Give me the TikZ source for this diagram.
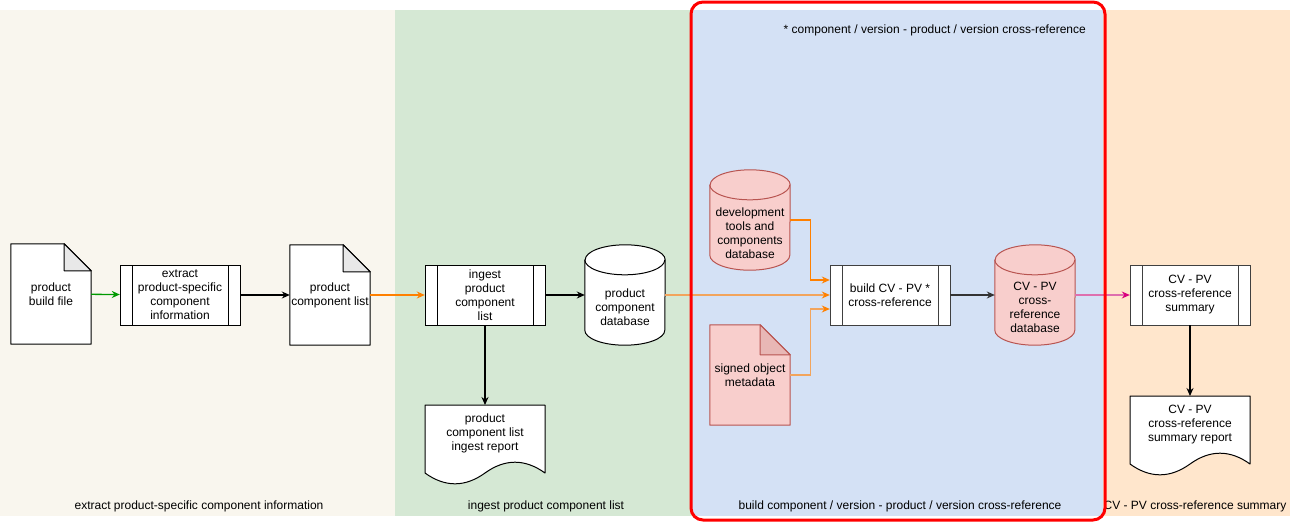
\documentclass[tikz,border=0pt]{standalone}
\usepackage{fontspec}
\setmainfont{Liberation Sans}
\usetikzlibrary{arrows.meta,calc}
\pgfdeclarelayer{lanes}
\pgfdeclarelayer{shapes}
\pgfsetlayers{lanes,shapes,main}
\definecolor{laneA}{HTML}{F9F6EE}
\definecolor{laneB}{HTML}{D5E8D4}
\definecolor{laneC}{HTML}{D4E1F5}
\definecolor{laneD}{HTML}{FFE6CC}
\definecolor{dbred}{HTML}{F8CECC}
\definecolor{dbredline}{HTML}{B85450}
\definecolor{foldgray}{HTML}{E8E8E8}
\definecolor{foldred}{HTML}{E8B7B5}
\definecolor{flowgreen}{HTML}{009900}
\definecolor{floworange}{HTML}{FF8000}
\definecolor{paleorange}{HTML}{F2A45C}
\definecolor{palepink}{HTML}{DE6FAE}
\definecolor{flowpink}{HTML}{D9007E}
\tikzset{
  outline/.style={line width=1pt,line join=round},
  flow/.style={line width=1.3pt},
  proc/.style={draw,fill=white,minimum width=120pt,minimum height=60pt,align=center,inner sep=0pt,
    path picture={\draw ([xshift=12pt]path picture bounding box.north west)--([xshift=12pt]path picture bounding box.south west)
      ([xshift=-12pt]path picture bounding box.north east)--([xshift=-12pt]path picture bounding box.south east);}},
  docbox/.style={minimum width=80pt,minimum height=100pt,align=center,inner sep=0pt},
  dbbox/.style={minimum width=80pt,minimum height=100pt,inner sep=0pt},
  dbtext/.style={align=center,inner sep=0pt},
  reportbox/.style={minimum width=120pt,minimum height=56pt,align=center,inner sep=0pt,anchor=north},
  lanelabel/.style={anchor=center,inner sep=0pt},
}
% folded page
\newcommand\docshape[5]{%
  \begin{pgfonlayer}{shapes}
    \draw[outline,fill=#2,draw=#3] (#1.south west)--(#1.north west)--([xshift=-#5]#1.north east)--([yshift=-#5]#1.north east)--(#1.south east)--cycle;
    \draw[outline,draw=#3,fill=#4] ([xshift=-#5]#1.north east)--([xshift=-#5,yshift=-#5]#1.north east)--([yshift=-#5]#1.north east)--cycle;
  \end{pgfonlayer}}
% cylinder
\newcommand\dbshape[3]{%
  \begin{pgfonlayer}{shapes}
    \draw[outline,fill=#2,draw=#3] ([yshift=-15pt]#1.north west)--([yshift=15pt]#1.south west)
      arc[start angle=180,end angle=360,x radius=40pt,y radius=15pt]
      --([yshift=-15pt]#1.north east)
      arc[start angle=0,end angle=180,x radius=40pt,y radius=15pt]--cycle;
    \draw[outline,draw=#3] ([yshift=-15pt]#1.north west) arc[start angle=180,end angle=360,x radius=40pt,y radius=15pt];
  \end{pgfonlayer}}
% page with wavy bottom
\newcommand\reportshape[1]{%
  \begin{pgfonlayer}{shapes}
    \draw[outline,fill=white] ([xshift=-60pt]#1.north)--([xshift=60pt]#1.north)--($(#1.north)+(60,68)$)
      .. controls ($(#1.north)+(40,53.6)$) and ($(#1.north)+(20,53.6)$) .. ($(#1.north)+(0,68)$)
      .. controls ($(#1.north)+(-20,82.4)$) and ($(#1.north)+(-40,82.4)$) .. ($(#1.north)+(-60,68)$)--cycle;
  \end{pgfonlayer}}
\begin{document}
\begin{tikzpicture}[x=1pt,y=-1pt,line width=1pt,>={Stealth[length=8pt,width=7pt]},font=\fontsize{12}{14}\selectfont]
\useasboundingbox (0,0) rectangle (1295,523);
% swim lanes
\begin{pgfonlayer}{lanes}
  \fill[laneA] (0,10) rectangle (395,516);
  \fill[laneB] (395,10) rectangle (692,516);
  \fill[laneC] (692,10) rectangle (1103,516);
  \fill[laneD] (1103,10) rectangle (1290,516);
\end{pgfonlayer}
\node[lanelabel] (extracttitle) at (199,506) {extract product-specific component information};
\node[lanelabel] (ingesttitle) at (546,506) {ingest product component list};
\node[lanelabel] (buildtitle) at (900,506) {build component / version - product / version cross-reference};
\node[lanelabel] (summtitle) at (1195,506) {CV - PV cross-reference summary};
\node[anchor=east,inner sep=0pt] (note) at (1086,30) {* component / version - product / version cross-reference};

% extract
\node[docbox] (pbf) at (51,294) {product\\build file};
\docshape{pbf}{white}{black}{foldgray}{27pt}
\node[proc] (extract) at (180,295) {extract\\product-specific\\component\\information};
\node[docbox] (pcl) at (330,295) {product\\component list};
\docshape{pcl}{white}{black}{foldgray}{27pt}

% ingest
\node[proc] (ingest) at (485,295) {ingest\\product\\component\\list};
\node[dbbox] (pcdb) at (625,295) {};
\dbshape{pcdb}{white}{black}
\node[dbtext] (pcdbtxt) at ([yshift=-12.5pt]pcdb.center) {product\\component\\database};
\node[reportbox] (ingrep) at (485,405) {product\\component list\\ingest report};
\reportshape{ingrep}

% build
\node[dbbox] (devdb) at (750,220) {};
\dbshape{devdb}{dbred}{dbredline}
\node[dbtext] (devdbtxt) at ([yshift=-13pt]devdb.center) {development\\tools and\\components\\database};
\node[docbox] (signed) at (750,375) {signed object\\metadata};
\docshape{signed}{dbred}{dbredline}{foldred}{30pt}
\node[proc,draw=black!75] (build) at (890,295) {build CV - PV *\\cross-reference};
\node[dbbox] (cvdb) at (1035,295) {};
\dbshape{cvdb}{dbred}{dbredline}
\node[dbtext] (cvdbtxt) at ([yshift=-12.5pt]cvdb.center) {CV - PV\\cross-\\reference\\database};

% summary
\node[proc,draw=black!75] (summ) at (1190,295) {CV - PV\\cross-reference\\summary};
\node[reportbox] (summrep) at (1190,396) {CV - PV\\cross-reference\\summary report};
\reportshape{summrep}

% connectors
\draw[flow,->,flowgreen] (pbf)--(extract);
\draw[flow,->] (extract)--(pcl);
\draw[flow,->,floworange] (pcl)--(ingest);
\draw[flow,->] (ingest)--(pcdb);
\draw[flow,->] (ingest)--(ingrep);
\draw[flow,paleorange,-{Stealth[length=8pt,width=7pt,color=floworange]}] (pcdb)--(build);
\draw[flow,->,floworange] (devdb.east)--++(20,0)|-([yshift=15pt]build.west);
\draw[flow,paleorange,-{Stealth[length=8pt,width=7pt,color=floworange]}] (signed.east)--++(20,0)|-([yshift=-14pt]build.west);
\draw[flow,->,black!80] (build)--(cvdb);
\draw[flow,palepink,-{Stealth[length=8pt,width=7pt,color=flowpink]}] (cvdb)--(summ);
\draw[flow,->] (summ)--(summrep);

% highlight frame
\draw[red,line width=3pt,rounded corners=12pt] (691,2) rectangle (1105,520);
\end{tikzpicture}
\end{document}
